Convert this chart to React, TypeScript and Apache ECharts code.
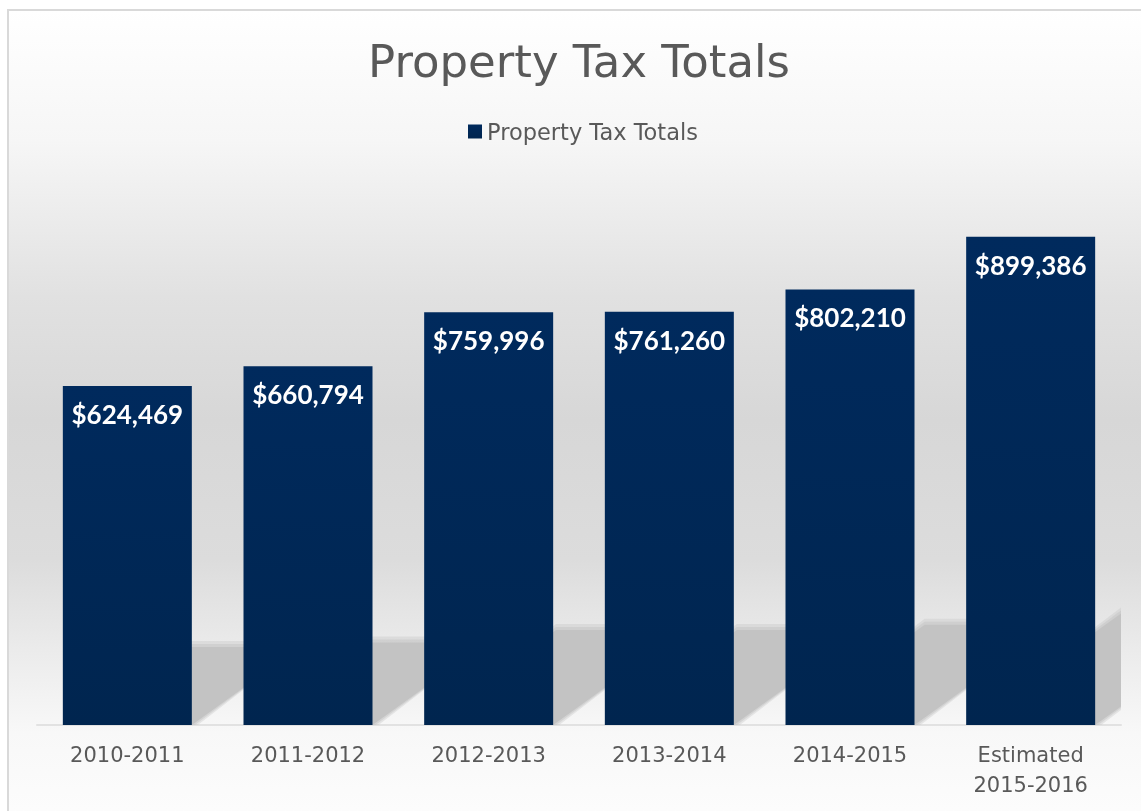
import React, { useEffect, useRef } from "react";
import * as echarts from "echarts";

const titleText = "Property Tax Totals";
const seriesName = "Property Tax Totals";
const categories = [
  "2010-2011",
  "2011-2012",
  "2012-2013",
  "2013-2014",
  "2014-2015",
  "Estimated\n2015-2016",
];
const values = [624469, 660794, 759996, 761260, 802210, 899386];
const yMin = 0;
const yMax = 1000000;

const BAR_WIDTH = 129;

export default function App() {
  const ref = useRef<HTMLDivElement>(null);
  useEffect(() => {
    if (!ref.current) return;
    const chart = echarts.init(ref.current, null, { renderer: "svg" });
    chart.setOption({
      animation: false,
      graphic: [
        {
          type: "rect",
          z: -100,
          shape: { x: 8, y: 10, width: 1140, height: 820 },
          style: {
            fill: new echarts.graphic.LinearGradient(0, 0, 0, 1, [
              { offset: 0, color: "#ffffff" },
              { offset: 0.16, color: "#f6f6f6" },
              { offset: 0.35, color: "#e1e1e1" },
              { offset: 0.5, color: "#d7d7d7" },
              { offset: 0.67, color: "#dcdcdc" },
              { offset: 0.78, color: "#ebebeb" },
              { offset: 0.88, color: "#f8f8f8" },
              { offset: 1, color: "#fdfdfd" },
            ]),
            stroke: "#d9d9d9",
            lineWidth: 2,
          },
        },
        {
          type: "text",
          x: 579,
          y: 61,
          style: {
            text: titleText,
            fill: "#595959",
            font: "45px 'DejaVu Sans'",
            textAlign: "center",
            textVerticalAlign: "middle",
          },
        },
      ],
      legend: {
        data: [seriesName],
        left: 463,
        top: 115,
        icon: "rect",
        itemWidth: 14,
        itemHeight: 14,
        textStyle: {
          color: "#595959",
          fontSize: 22.5,
          fontFamily: "DejaVu Sans",
        },
      },
      grid: { left: 37, right: 20, top: 182, bottom: 86 },
      xAxis: {
        type: "category",
        data: categories,
        axisTick: { show: false },
        axisLine: { lineStyle: { color: "#e2e2e2", width: 2 } },
        axisLabel: {
          color: "#595959",
          fontSize: 21,
          fontFamily: "DejaVu Sans",
          margin: 15,
          lineHeight: 30,
          interval: 0,
        },
      },
      yAxis: {
        type: "value",
        min: yMin,
        max: yMax,
        show: false,
        splitLine: { show: false },
      },
      series: [
        {
          type: "custom",
          name: "shadow",
          clip: true,
          z: 1,
          silent: true,
          data: values.map((v, i) => [i, v]),
          encode: { x: 0, y: 1 },
          renderItem: (params: any, api: any) => {
            const idx = api.value(0);
            const v = api.value(1);
            const base = api.coord([idx, 0]);
            const top = api.coord([idx, v]);
            const xL = base[0] - BAR_WIDTH / 2;
            const xR = base[0] + BAR_WIDTH / 2;
            const hs = (base[1] - top[1]) * 0.23;
            const dx = hs / 0.72;
            const pts = (g: number) => [
              [xL, base[1]],
              [xR + g, base[1]],
              [xR + dx + g, base[1] - hs - g],
              [xL + dx, base[1] - hs - g],
            ];
            return {
              type: "group",
              children: [
                {
                  type: "polygon",
                  shape: { points: pts(6) },
                  style: { fill: "rgba(195,195,195,0.35)" },
                },
                {
                  type: "polygon",
                  shape: { points: pts(3) },
                  style: { fill: "rgba(195,195,195,0.5)" },
                },
                {
                  type: "polygon",
                  shape: { points: pts(0) },
                  style: { fill: "#c3c3c3" },
                },
              ],
            };
          },
        },
        {
          type: "bar",
          name: seriesName,
          data: values,
          barWidth: BAR_WIDTH,
          z: 3,
          itemStyle: {
            color: new echarts.graphic.LinearGradient(0, 0, 0, 1, [
              { offset: 0, color: "#002a5d" },
              { offset: 1, color: "#00254f" },
            ]),
          },
          label: {
            show: true,
            position: "insideTop",
            distance: 15,
            color: "#ffffff",
            fontSize: 26,
            fontWeight: "bold",
            fontFamily: "Lato",
            formatter: (p: any) => "$" + Number(p.value).toLocaleString("en-US"),
          },
        },
      ],
    });
    return () => chart.dispose();
  }, []);
  return (
    <div
      ref={ref}
      style={{ position: "fixed", left: 0, top: 0, width: 1141, height: 811 }}
    />
  );
}
